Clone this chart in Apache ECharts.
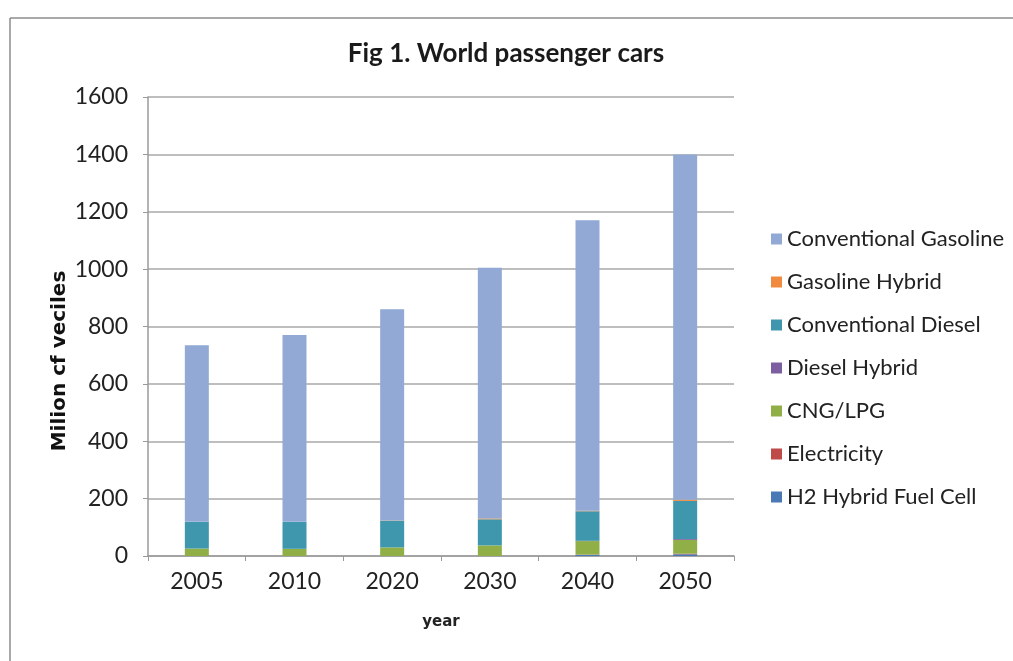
<!DOCTYPE html>
<html>
<head>
<meta charset="utf-8">
<script src="https://cdn.jsdelivr.net/npm/echarts@6/dist/echarts.min.js"></script>
<style>
  html, body { margin: 0; padding: 0; background: #fff; }
  #chart { width: 1013px; height: 661px; }
</style>
</head>
<body>
<div id="chart"></div>
<script>
// World passenger car fleet by powertrain (million vehicles)
const years = ['2005', '2010', '2020', '2030', '2040', '2050'];

const h2HybridFuelCell   = [0, 0, 0, 0, 4, 6];
const electricity        = [0, 0, 0, 0, 1, 2];
const cngLpg             = [26, 25, 30, 37, 47, 48];
const dieselHybrid       = [0, 0, 0, 0, 1, 3];
const conventionalDiesel = [93, 94, 93, 91, 103, 133];
const gasolineHybrid     = [0, 0, 1, 3, 2, 4];
const conventionalGasoline = [616, 651, 736, 874, 1012, 1204];

const yTicks = [0, 200, 400, 600, 800, 1000, 1200, 1400, 1600];

const FONT = 'Lato, "Open Sans", sans-serif';

// Stacked from the bottom up; legend lists them top-down.
const stack = [
  { name: 'H2 Hybrid Fuel Cell', data: h2HybridFuelCell, color: '#4A7AB5' },
  { name: 'Electricity', data: electricity, color: '#BE4B48' },
  { name: 'CNG/LPG', data: cngLpg, color: '#90AF47' },
  { name: 'Diesel Hybrid', data: dieselHybrid, color: '#7D5FA0' },
  { name: 'Conventional Diesel', data: conventionalDiesel, color: '#3F97AE' },
  { name: 'Gasoline Hybrid', data: gasolineHybrid, color: '#F08A3E' },
  { name: 'Conventional Gasoline', data: conventionalGasoline, color: '#91A9D4' }
];

const chart = echarts.init(document.getElementById('chart'), null, { renderer: 'canvas' });

chart.setOption({
  animation: false,
  backgroundColor: '#ffffff',
  title: {
    text: 'Fig 1. World passenger cars',
    left: 501,
    top: 36,
    textAlign: 'center',
    textStyle: { fontFamily: FONT, fontSize: 26, fontWeight: 'bold', color: '#1a1a1a' }
  },
  legend: {
    orient: 'vertical',
    left: 766,
    top: 223,
    itemWidth: 11,
    itemHeight: 11,
    itemGap: 21,
    icon: 'rect',
    data: stack.slice().reverse().map(s => s.name),
    textStyle: { fontFamily: FONT, fontSize: 22, color: '#222' }
  },
  grid: { left: 148, right: 279, top: 97, bottom: 105, containLabel: false },
  xAxis: {
    type: 'category',
    data: years,
    name: 'year',
    nameLocation: 'middle',
    nameGap: 59,
    nameTextStyle: { fontFamily: '"DejaVu Sans", sans-serif', fontSize: 15, fontWeight: 'bold', color: '#222' },
    axisLine: { lineStyle: { color: '#9a9a9a', width: 1.5 } },
    axisTick: { show: true, length: 5, lineStyle: { color: '#9a9a9a' } },
    axisLabel: { fontFamily: FONT, fontSize: 23, color: '#222', margin: 14 }
  },
  yAxis: {
    type: 'value',
    min: yTicks[0],
    max: yTicks[yTicks.length - 1],
    interval: yTicks[1] - yTicks[0],
    axisLine: { show: true, lineStyle: { color: '#9a9a9a', width: 1.5 } },
    axisTick: { show: true, length: 5, lineStyle: { color: '#9a9a9a' } },
    axisLabel: { fontFamily: FONT, fontSize: 23, color: '#222', margin: 20, formatter: v => String(v) },
    splitLine: { lineStyle: { color: '#a9a9a9', width: 1.5 } }
  },
  series: stack.map(s => ({
    name: s.name,
    type: 'bar',
    stack: 'fleet',
    data: s.data,
    barWidth: 24,
    itemStyle: { color: s.color }
  })),
  graphic: [
    { type: 'line', shape: { x1: 10, y1: 18, x2: 1013, y2: 18 }, style: { stroke: '#8c8c8c', lineWidth: 1.5 } },
    { type: 'line', shape: { x1: 10, y1: 18, x2: 10, y2: 661 }, style: { stroke: '#8c8c8c', lineWidth: 1.5 } },
    {
      type: 'text',
      x: 60,
      y: 361,
      rotation: Math.PI / 2,
      style: {
        text: 'Milion cf veciles',
        font: 'bold 20px "DejaVu Sans", sans-serif',
        fill: '#111',
        textAlign: 'center',
        textVerticalAlign: 'middle'
      }
    }
  ]
});
</script>
</body>
</html>
